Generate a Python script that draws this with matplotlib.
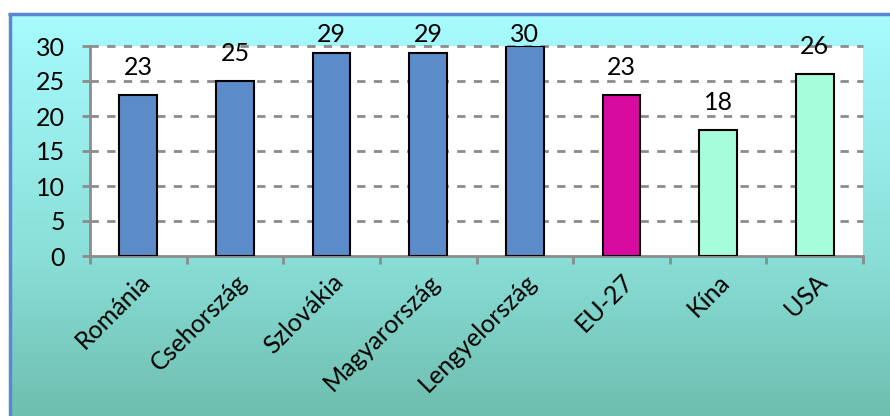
import matplotlib.pyplot as plt
import numpy as np
from matplotlib.colors import LinearSegmentedColormap, to_rgb

categories = ["Románia", "Csehország", "Szlovákia", "Magyarország",
              "Lengyelország", "EU-27", "Kína", "USA"]
values = [23, 25, 29, 29, 30, 23, 18, 26]
bar_colors = ["#5B8BC8"] * 5 + ["#D80BA0"] + ["#A6FDD9"] * 2
yticks = [0, 5, 10, 15, 20, 25, 30]

plt.rcParams['font.family'] = ['Lato', 'DejaVu Sans']
FS = 17
W, H = 890, 416
fig = plt.figure(figsize=(W / 100, H / 100), dpi=100)
fig.patch.set_facecolor('white')

# background panel with gradient
bg = fig.add_axes([0, 0, 1, 1], zorder=-10)
bg.set_xlim(0, W)
bg.set_ylim(H, 0)
bg.axis('off')
top_c = np.array(to_rgb('#A8FBFE'))
mid_c = np.array(to_rgb('#8ADFD8'))
bot_c = np.array(to_rgb('#6FBEAF'))
cmap = LinearSegmentedColormap.from_list('g', [(0, top_c), (0.6, mid_c), (1, bot_c)])
grad = np.linspace(0, 1, 256).reshape(-1, 1)
bg.imshow(grad, aspect='auto', cmap=cmap, extent=[9, W, H, 13], origin='upper')
bg.plot([8, W], [13.5, 13.5], color='#5B87D0', lw=2.5, solid_capstyle='butt')
bg.plot([9.5, 9.5], [12.5, H], color='#5B87D0', lw=2.5, solid_capstyle='butt')

ax = fig.add_axes([90 / W, 160 / H, (863 - 90) / W, (256 - 46) / H])
ax.set_facecolor('white')
x = np.arange(len(categories))
ax.bar(x, values, width=0.39, color=bar_colors, edgecolor='black', linewidth=1.5, zorder=3)
ax.set_xlim(-0.5, len(categories) - 0.5)
ax.set_ylim(0, 30)
ax.set_yticks(yticks)
ax.set_yticklabels([str(t) for t in yticks], fontsize=FS + 1)
for t in yticks[1:]:
    ax.axhline(t, color='#8C8C8C', lw=2, ls=(0, (3, 3)), zorder=1, clip_on=False)

ax.set_xticks(np.arange(-0.5, len(categories), 1.0))
ax.set_xticklabels([])
ax.set_xticks(x, minor=True)
ax.set_xticklabels(categories, minor=True, rotation=45, ha='right',
                   rotation_mode='anchor', fontsize=FS + 1)
ax.tick_params(axis='x', which='minor', length=0, pad=10)
ax.tick_params(axis='x', which='major', length=6, width=2, color='#8C8C8C', direction='out')
ax.tick_params(axis='y', length=6, width=2, color='#8C8C8C', direction='out', pad=12)
for s in ['top', 'right']:
    ax.spines[s].set_visible(False)
for s in ['left', 'bottom']:
    ax.spines[s].set_color('#8C8C8C')
    ax.spines[s].set_linewidth(2)

for xi, v in zip(x, values):
    ax.text(xi, min(v + 3.9, 31.7), str(v), ha='center', va='center',
            fontsize=FS + 1, clip_on=False, zorder=5)

fig.savefig('out.png', dpi=100)
